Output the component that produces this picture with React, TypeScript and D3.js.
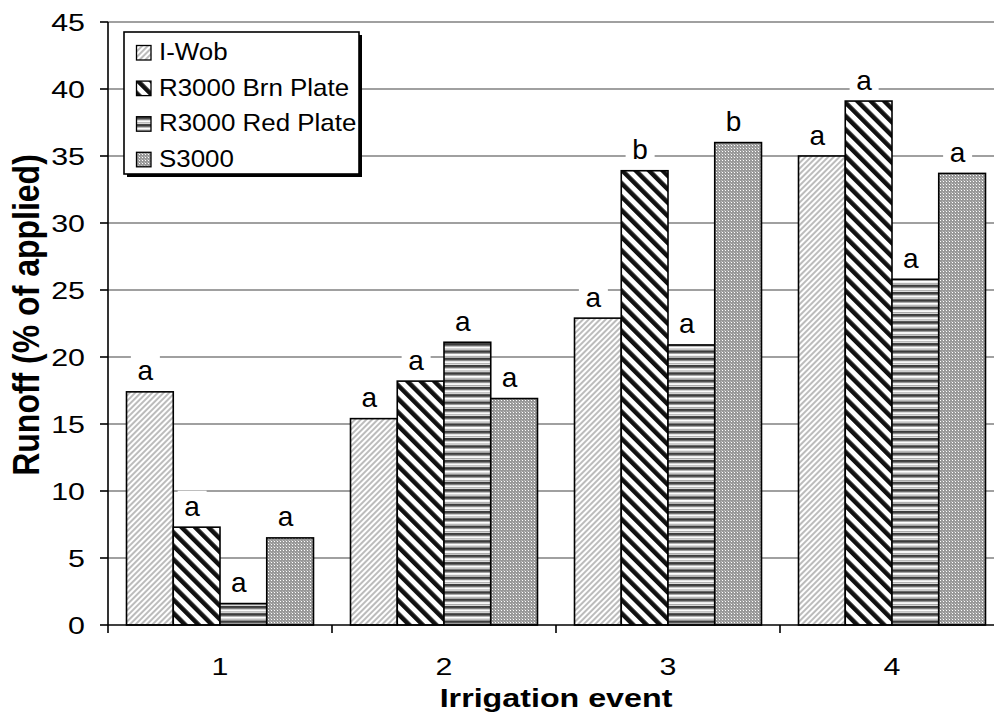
import * as d3 from 'd3';

const categories = ['1', '2', '3', '4'];
const seriesNames = ['I-Wob', 'R3000 Brn Plate', 'R3000 Red Plate', 'S3000'];
// runoff (% of applied) per irrigation event, one array per sprinkler
const iWob = [17.4, 15.4, 22.9, 35.0];
const r3000Brn = [7.3, 18.2, 33.9, 39.1];
const r3000Red = [1.6, 21.1, 20.9, 25.8];
const s3000 = [6.5, 16.9, 36.0, 33.7];
// significance letters above each bar
const lettersIWob = ['a', 'a', 'a', 'a'];
const lettersBrn = ['a', 'a', 'b', 'a'];
const lettersRed = ['a', 'a', 'a', 'a'];
const lettersS3000 = ['a', 'a', 'b', 'a'];
const yTicks = [0, 5, 10, 15, 20, 25, 30, 35, 40, 45];

const seriesValues = [iWob, r3000Brn, r3000Red, s3000];
const seriesLetters = [lettersIWob, lettersBrn, lettersRed, lettersS3000];
const patternIds = ['pat-iwob', 'pat-brn', 'pat-red', 'pat-s3000'];

const W = 994;
const H = 724;
const margin = { top: 22, left: 108, bottom: 99 };
const plotRight = 1004; // last category runs past the picture edge
const font = '"Liberation Sans", Arial, Helvetica, sans-serif';

const App = () => {
  const y = d3.scaleLinear().domain([0, 45]).range([H - margin.bottom, margin.top]);
  const x = d3.scaleBand().domain(categories).range([margin.left, plotRight]).paddingInner(0).paddingOuter(0);
  const xInner = d3.scaleBand()
    .domain(seriesNames)
    .range([0, x.bandwidth()])
    .paddingInner(0)
    .paddingOuter(0.396);

  const y0 = y(0);

  return (
    <div style={{ position: 'absolute', left: 0, top: 0 }}>
      <svg width={W} height={H} style={{ display: 'block', background: '#fff' }} fontFamily={font}>
        <defs>
          <pattern id="pat-iwob" width={4} height={4} patternUnits="userSpaceOnUse" patternTransform="rotate(45)">
            <rect width={4} height={4} fill="#fff" />
            <rect width={2} height={4} fill="#bcbcbc" />
          </pattern>
          <pattern id="pat-brn" width={9.5} height={9.5} patternUnits="userSpaceOnUse" patternTransform="rotate(-45)">
            <rect width={9.5} height={9.5} fill="#fff" />
            <rect width={4.5} height={9.5} fill="#111" />
          </pattern>
          <pattern id="pat-red" width={7.3} height={7.3} patternUnits="userSpaceOnUse">
            <rect width={7.3} height={7.3} fill="#fff" />
            <rect y={0} width={7.3} height={2.6} fill="#3c3c3c" />
            <rect y={2.6} width={7.3} height={0.9} fill="#9a9a9a" />
            <rect y={5.4} width={7.3} height={1.3} fill="#a8a8a8" />
          </pattern>
          <pattern id="pat-s3000" width={3} height={3} patternUnits="userSpaceOnUse">
            <rect width={3} height={3} fill="#999" />
            <rect x={1} y={1} width={1} height={1} fill="#fff" />
            <rect x={0} y={0} width={1} height={1} fill="#bbb" />
          </pattern>
        </defs>

        {/* gridlines */}
        {yTicks.filter(t => t > 0).map(t => (
          <line key={t} x1={margin.left} x2={plotRight} y1={y(t)} y2={y(t)} stroke="#808080" strokeWidth={1.6} />
        ))}

        {/* bars */}
        {categories.map((c, ci) => (
          <g key={c} transform={`translate(${x(c)},0)`}>
            {seriesNames.map((s, si) => {
              const v = seriesValues[si][ci];
              return (
                <rect
                  key={s}
                  x={xInner(s)}
                  y={y(v)}
                  width={xInner.bandwidth()}
                  height={y0 - y(v)}
                  fill={`url(#${patternIds[si]})`}
                  stroke="#000"
                  strokeWidth={1.6}
                />
              );
            })}
          </g>
        ))}

        {/* significance letters with white boxes */}
        {categories.map((c, ci) => (
          <g key={'l' + c} transform={`translate(${x(c)},0)`}>
            {seriesNames.map((s, si) => {
              const v = seriesValues[si][ci];
              const cx = (xInner(s) || 0) + xInner.bandwidth() / 2 - 4.5;
              const base = y(v) - 11.5;
              return (
                <g key={s}>
                  <rect x={cx - 14.5} y={base - 25} width={29} height={30} fill="#fff" />
                  <text x={cx} y={base} textAnchor="middle" fontSize={28} fill="#000">
                    {seriesLetters[si][ci]}
                  </text>
                </g>
              );
            })}
          </g>
        ))}

        {/* y axis */}
        <line x1={margin.left} x2={margin.left} y1={y(45)} y2={y0} stroke="#000" strokeWidth={1.6} />
        {yTicks.map(t => (
          <g key={'yt' + t}>
            <line x1={margin.left - 8} x2={margin.left} y1={y(t)} y2={y(t)} stroke="#000" strokeWidth={1.6} />
            <text transform={`translate(85,${y(t) + 8.8}) scale(1.24,1)`} textAnchor="end" fontSize={24.5} fill="#000">
              {t}
            </text>
          </g>
        ))}

        {/* x axis */}
        <line x1={margin.left} x2={plotRight} y1={y0} y2={y0} stroke="#000" strokeWidth={1.6} />
        {categories.map(c => (
          <line key={'xt' + c} x1={x(c)} x2={x(c)} y1={y0} y2={y0 + 8} stroke="#000" strokeWidth={1.6} />
        ))}
        {categories.map(c => (
          <text
            key={'xl' + c}
            transform={`translate(${(x(c) || 0) + x.bandwidth() / 2},675) scale(1.24,1)`}
            textAnchor="middle"
            fontSize={24.5}
            fill="#000"
          >
            {c}
          </text>
        ))}

        {/* axis titles */}
        <text
          transform={`translate(${(margin.left + plotRight) / 2},707) scale(1.24,1)`}
          textAnchor="middle"
          fontSize={26}
          fontWeight="bold"
          fill="#000"
        >
          Irrigation event
        </text>
        <text
          transform="translate(39,315) scale(1.15,1) rotate(-90)"
          textAnchor="middle"
          fontSize={32}
          fontWeight="bold"
          fill="#000"
        >
          Runoff (% of applied)
        </text>

        {/* legend */}
        <g>
          <rect x={127} y={35} width={235} height={142} fill="#000" />
          <rect x={124} y={32} width={235} height={142} fill="#fff" stroke="#000" strokeWidth={1.6} />
          {seriesNames.map((s, si) => {
            const base = 60 + si * 35.6;
            return (
              <g key={'lg' + s}>
                <rect x={136.5} y={base - 14.5} width={14.5} height={14.5} fill={`url(#${patternIds[si]})`} stroke="#000" strokeWidth={1.3} />
                <text transform={`translate(159,${base}) scale(1.08,1)`} fontSize={24} fill="#000">
                  {s}
                </text>
              </g>
            );
          })}
        </g>
      </svg>
    </div>
  );
};

export default App;
